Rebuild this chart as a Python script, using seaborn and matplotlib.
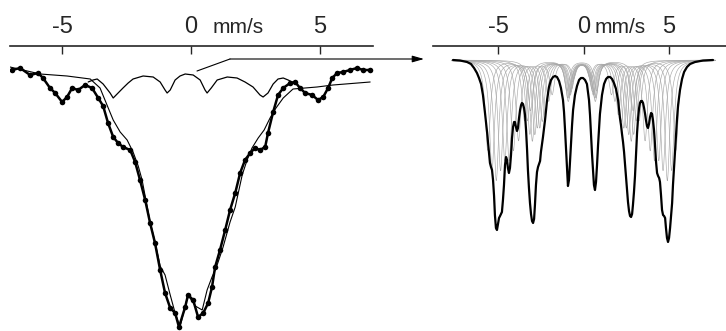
import numpy as np
import seaborn as sns
import matplotlib.pyplot as plt

sns.set_style('white')
plt.rcParams['font.family'] = ['Liberation Sans', 'DejaVu Sans']

# left panel: measured spectrum (velocity mm/s, transmission %)
data_v = [-6.94, -6.63, -6.24, -5.93, -5.74, -5.47, -5.27, -5.00, -4.81, -4.61,
          -4.38, -4.11, -3.84, -3.60, -3.41, -3.22, -3.02, -2.83, -2.64, -2.36,
          -2.17, -1.98, -1.78, -1.59, -1.40, -1.20, -1.01, -0.81, -0.62, -0.47,
          -0.23, -0.12, 0.08, 0.27, 0.47, 0.66, 0.81, 0.93, 1.12, 1.32,
          1.51, 1.71, 1.90, 2.09, 2.29, 2.48, 2.67, 2.87, 2.98, 3.18,
          3.37, 3.57, 3.84, 4.03, 4.22, 4.42, 4.69, 4.92, 5.12, 5.31,
          5.47, 5.66, 5.89, 6.16, 6.43, 6.67, 6.94]
data_t = [100.0, 100.2, 99.5, 99.7, 99.2, 98.2, 97.7, 96.8, 97.3, 98.2,
          98.0, 98.5, 98.2, 97.2, 96.4, 94.7, 93.3, 92.7, 92.3, 92.0,
          90.8, 89.0, 87.0, 84.7, 82.7, 80.0, 77.7, 76.2, 75.7, 74.3,
          76.3, 77.5, 77.0, 75.3, 75.7, 76.7, 78.3, 80.3, 82.0, 84.0,
          86.0, 87.7, 89.7, 91.0, 91.7, 92.2, 92.0, 92.3, 93.7, 95.8,
          97.5, 98.2, 98.7, 98.8, 98.2, 97.7, 97.5, 97.0, 97.3, 98.2,
          99.2, 99.7, 99.8, 100.0, 100.2, 100.0, 100.0]

# left panel: fitted envelope
fit_v = [-7.02, -5.85, -4.81, -3.91, -3.53, -3.26, -3.02, -2.75, -2.48, -2.25,
         -2.05, -1.90, -1.59, -1.40, -1.20, -1.01, -0.81, -0.62, -0.43, -0.27,
         -0.12, 0.16, 0.43, 0.62, 0.81, 0.97, 1.24, 1.51, 1.71, 1.98,
         2.17, 2.36, 2.60, 2.83, 3.06, 3.29, 3.57, 3.95, 4.88, 5.50, 6.94]
fit_t = [100.3, 99.6, 99.4, 99.1, 98.2, 96.5, 95.0, 93.8, 93.0, 91.8,
         90.4, 89.0, 84.8, 82.8, 80.4, 79.5, 77.5, 75.7, 74.3, 76.0,
         77.5, 76.4, 76.0, 78.0, 79.3, 80.2, 82.3, 84.8, 86.3, 89.5,
         91.0, 92.2, 93.2, 94.0, 95.2, 96.2, 97.2, 98.1, 98.3, 98.5, 98.8]

# left panel: small sextet subspectrum
sub_v = [-3.99, -3.80, -3.64, -3.41, -3.14, -3.02, -2.83, -2.64, -2.44, -2.25,
         -1.86, -1.47, -1.20, -1.01, -0.93, -0.81, -0.62, -0.43, -0.23, 0.08,
         0.35, 0.54, 0.62, 0.78, 1.01, 1.40, 1.78, 2.09, 2.40, 2.67,
         2.79, 2.98, 3.18, 3.37, 3.57, 3.76, 3.91]
sub_t = [98.8, 99.0, 99.1, 98.6, 97.7, 97.2, 97.7, 98.2, 98.7, 99.1,
         99.4, 99.3, 98.8, 98.0, 97.7, 98.0, 99.0, 99.4, 99.6, 99.5,
         99.0, 98.0, 97.7, 98.2, 99.0, 99.3, 99.2, 98.8, 98.3, 97.5,
         97.3, 97.7, 98.6, 99.1, 99.2, 99.0, 98.8]

# right panel: total fitted spectrum
sum_v = [-7.63, -7.22, -6.81, -6.58, -6.40, -6.23, -6.11, -5.99, -5.88, -5.76,
         -5.64, -5.53, -5.47, -5.41, -5.35, -5.29, -5.23, -5.18, -5.12, -5.06,
         -5.00, -4.94, -4.88, -4.77, -4.71, -4.65, -4.59, -4.53, -4.47, -4.42,
         -4.36, -4.30, -4.24, -4.18, -4.12, -4.06, -4.01, -3.95, -3.89, -3.83,
         -3.77, -3.71, -3.65, -3.60, -3.54, -3.48, -3.42, -3.36, -3.30, -3.25,
         -3.19, -3.13, -3.07, -3.01, -2.95, -2.89, -2.84, -2.78, -2.72, -2.66,
         -2.60, -2.54, -2.49, -2.37, -2.25, -2.13, -2.02, -1.90, -1.78, -1.67,
         -1.55, -1.43, -1.32, -1.20, -1.14, -1.08, -1.02, -0.96, -0.91, -0.85,
         -0.79, -0.73, -0.67, -0.61, -0.50, -0.38, -0.26, -0.15, -0.03, 0.09,
         0.20, 0.32, 0.38, 0.44, 0.50, 0.56, 0.61, 0.67, 0.73, 0.79,
         0.85, 0.91, 0.96, 1.08, 1.20, 1.32, 1.43, 1.55, 1.67, 1.78,
         1.90, 2.02, 2.08, 2.13, 2.19, 2.25, 2.31, 2.37, 2.43, 2.49,
         2.54, 2.60, 2.66, 2.72, 2.78, 2.84, 2.89, 2.95, 3.01, 3.07,
         3.13, 3.19, 3.25, 3.30, 3.36, 3.42, 3.48, 3.54, 3.60, 3.65,
         3.71, 3.77, 3.83, 3.89, 3.95, 4.01, 4.06, 4.12, 4.18, 4.24,
         4.30, 4.36, 4.42, 4.47, 4.53, 4.59, 4.65, 4.71, 4.77, 4.82,
         4.88, 4.94, 5.00, 5.06, 5.12, 5.18, 5.23, 5.29, 5.35, 5.41,
         5.47, 5.53, 5.64, 5.76, 5.88, 6.05, 6.23, 6.52, 6.99, 7.57]
sum_t = [100.0, 99.95, 99.8, 99.6, 99.2, 98.7, 98.2, 97.6, 96.5, 94.7,
         92.8, 90.8, 89.7, 89.3, 89.0, 88.0, 86.4, 84.5, 83.2, 83.0,
         83.6, 84.2, 84.4, 84.8, 86.0, 87.5, 89.5, 90.3, 90.0, 89.2,
         88.7, 89.2, 90.5, 92.2, 93.3, 93.8, 93.8, 93.3, 92.9, 93.2,
         94.2, 95.0, 95.5, 95.7, 95.6, 95.2, 94.5, 93.0, 91.0, 89.0,
         87.2, 85.7, 84.6, 83.9, 83.7, 84.1, 85.5, 87.5, 88.8, 89.3,
         89.6, 89.9, 90.8, 92.3, 94.0, 96.0, 97.3, 98.0, 98.3, 98.4,
         98.3, 97.9, 97.2, 96.0, 94.8, 93.0, 91.0, 88.8, 87.4, 88.0,
         89.8, 91.5, 93.5, 95.0, 96.5, 97.4, 98.0, 98.2, 98.2, 98.0,
         97.6, 96.0, 94.5, 92.5, 90.5, 88.8, 87.5, 87.0, 87.8, 89.5,
         91.5, 93.2, 94.6, 96.5, 97.6, 98.1, 98.3, 98.3, 98.1, 97.7,
         97.1, 96.0, 95.0, 94.2, 93.5, 92.6, 91.8, 90.8, 89.5, 88.2,
         87.0, 85.8, 84.9, 84.4, 84.3, 84.6, 85.5, 86.8, 88.4, 90.5,
         92.7, 94.2, 95.2, 95.7, 95.9, 95.9, 95.7, 95.2, 94.6, 94.0,
         93.4, 93.2, 93.6, 94.3, 94.7, 94.6, 94.0, 93.0, 91.5, 89.8,
         88.7, 88.4, 88.2, 87.8, 86.5, 85.0, 84.5, 84.4, 84.2, 83.2,
         82.2, 81.8, 82.2, 83.2, 84.5, 85.7, 87.5, 89.2, 90.8, 92.5,
         94.2, 95.5, 97.0, 98.1, 98.8, 99.3, 99.6, 99.8, 99.95, 100.0]

# right panel: field distribution components (outer half-splitting mm/s, outer-line depth %)
comp_split = [5.5, 5.25, 5.0, 4.75, 4.5, 4.25, 4.0, 3.7, 3.35, 3.0]
comp_depth = [9, 11, 12, 11, 10, 10, 9, 8, 6, 5]
comp_shift = -0.1
line_pos = [-1.0, -0.578, -0.158, 0.158, 0.578, 1.0]
line_int = [3, 2, 1, 1, 2, 3]
line_width = 0.35

fig = plt.figure(figsize=(7.26, 3.31), dpi=100)
ax1 = fig.add_axes([10 / 726, 0, 363 / 726, 285 / 331])
ax2 = fig.add_axes([433 / 726, 0, 293 / 726, 285 / 331])

sns.lineplot(x=fit_v, y=fit_t, ax=ax1, color='black', lw=0.8, sort=False, estimator=None)
sns.lineplot(x=sub_v, y=sub_t, ax=ax1, color='black', lw=0.9, sort=False, estimator=None)
sns.lineplot(x=data_v, y=data_t, ax=ax1, color='black', lw=1.8, marker='o',
             markersize=4, markeredgewidth=0, sort=False, estimator=None)
ax1.set_xlim(-7.02, 7.05)
ax1.set_ylim(73.9, 102.4)

vv = np.linspace(-7.7, 7.7, 1200)
for b, d in zip(comp_split, comp_depth):
    absorb = np.zeros_like(vv)
    for p, w in zip(line_pos, line_int):
        absorb += d * w / 3 / (1 + ((vv - comp_shift - p * b) / (line_width / 2)) ** 2)
    sns.lineplot(x=vv, y=100 - absorb, ax=ax2, color='#a8a8a8', lw=0.45,
                 sort=False, estimator=None)
sns.lineplot(x=sum_v, y=sum_t, ax=ax2, color='black', lw=1.6, sort=False, estimator=None)
ax2.set_xlim(-8.80, 8.33)
ax2.set_ylim(72.9, 101.4)

for ax in (ax1, ax2):
    for s in ('left', 'right', 'bottom'):
        ax.spines[s].set_visible(False)
    ax.spines['top'].set_linewidth(1.2)
    ax.set_yticks([])
    ax.set_xticks([-5, 0, 5])
    ax.set_xticklabels(['-5', '0', '5'])
    ax.xaxis.tick_top()
    ax.tick_params(axis='x', direction='in', length=6, width=1, pad=5.5, labelsize=17)
    ax.set_xlabel('')
    ax.set_ylabel('')
    ax.patch.set_alpha(0)

fig.text(213 / 726, 1 - 33 / 331, 'mm/s', fontsize=15, va='baseline')
fig.text(595 / 726, 1 - 33 / 331, 'mm/s', fontsize=15, va='baseline')

ax1.annotate('', xy=(230, 272), xytext=(197, 260), xycoords='figure pixels',
             arrowprops=dict(arrowstyle='-', color='black', lw=0.8, shrinkA=0, shrinkB=0))
ax1.annotate('', xy=(424, 272), xytext=(230, 272), xycoords='figure pixels',
             arrowprops=dict(arrowstyle='-|>,head_length=0.7,head_width=0.2', color='black',
                             lw=0.8, shrinkA=0, shrinkB=0))

fig.savefig('out.png', dpi=100)
